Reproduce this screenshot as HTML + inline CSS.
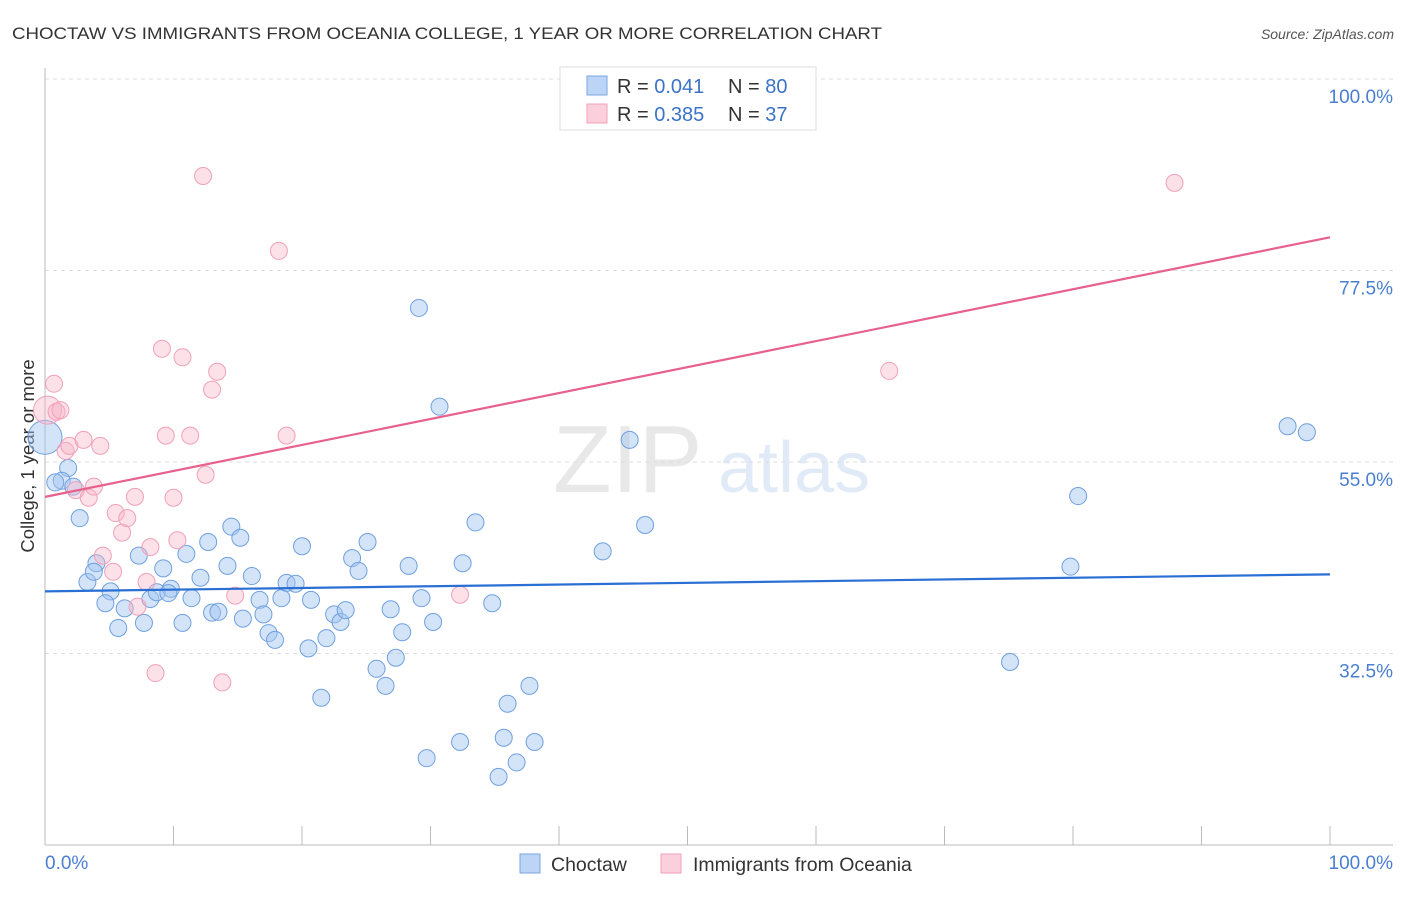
<!DOCTYPE html>
<html><head><meta charset="utf-8"><style>
body{margin:0;background:#fff;font-family:"Liberation Sans",sans-serif}
svg text{font-family:"Liberation Sans",sans-serif}
</style></head><body>
<svg id="chart" width="1406" height="892" xmlns="http://www.w3.org/2000/svg">
<text x="12" y="39" font-size="17" fill="#333" textLength="870" lengthAdjust="spacingAndGlyphs">CHOCTAW VS IMMIGRANTS FROM OCEANIA COLLEGE, 1 YEAR OR MORE CORRELATION CHART</text>
<text x="1394" y="39" font-size="14" fill="#555" font-style="italic" text-anchor="end">Source: ZipAtlas.com</text>
<g opacity="0.22">
<text x="553" y="492" font-size="96" font-family="Liberation Serif,serif" fill="#999">ZIP</text>
<text x="718" y="492" font-size="72" fill="#7aa6e0">atlas</text>
</g>
<g id="grid"></g>
<line x1="45" y1="68" x2="45" y2="845" stroke="#bbb"/>
<line x1="45" y1="845" x2="1393" y2="845" stroke="#bbb"/>
<g id="xticks"></g>
<g id="ylabels"></g>
<text transform="translate(34,456) rotate(-90)" font-size="18.5" fill="#333" text-anchor="middle">College, 1 year or more</text>
<text x="45" y="869" font-size="19" fill="#4a7fd0">0.0%</text>
<text x="1393" y="869" font-size="19" fill="#4a7fd0" text-anchor="end">100.0%</text>
<g id="points"></g>
<g id="lines"></g>
<g>
<rect x="560" y="67" width="256" height="63" fill="#fff" stroke="#ddd"/>
<rect x="587" y="76" width="20" height="19" fill="#bcd4f5" stroke="#7aa6e0"/>
<rect x="587" y="104" width="20" height="19" fill="#fbd0dc" stroke="#f0a0b8"/>
<text x="617" y="93" font-size="20" fill="#333">R = <tspan fill="#3b73c8">0.041</tspan><tspan x="728">N = </tspan><tspan fill="#3b73c8">80</tspan></text>
<text x="617" y="121" font-size="20" fill="#333">R = <tspan fill="#3b73c8">0.385</tspan><tspan x="728">N = </tspan><tspan fill="#3b73c8"> 37</tspan></text>
</g>
<g>
<rect x="520" y="854" width="20" height="19" fill="#bcd4f5" stroke="#7aa6e0"/>
<text x="551" y="871" font-size="19.5" fill="#333">Choctaw</text>
<rect x="661" y="854" width="20" height="19" fill="#fbd0dc" stroke="#f0a0b8"/>
<text x="693" y="871" font-size="19.5" fill="#333">Immigrants from Oceania</text>
</g>
</svg>
<script>
const yTicks=[100,77.5,55,32.5];
const yTickLabels=["100.0%","77.5%","55.0%","32.5%"];
const xTicks=[0,10,20,30,40,50,60,70,80,90,100];
const blueX=[0,1.8,1.3,0.8,2.2,2.7,4.0,3.3,3.8,5.1,4.7,6.2,5.7,7.3,8.2,7.7,9.2,8.7,9.8,9.6,11.0,10.7,12.1,11.4,12.7,13.0,13.5,14.2,14.5,15.2,15.4,16.1,16.7,17.0,17.4,17.9,18.4,18.8,19.5,20.0,20.5,20.7,21.5,21.9,22.5,23.0,23.4,23.9,24.4,25.1,25.8,26.5,26.9,27.3,27.8,28.3,29.3,29.7,30.2,30.7,32.3,32.5,33.5,34.8,35.3,35.7,36.0,36.7,37.7,38.1,29.1,43.4,45.5,46.7,75.1,79.8,80.4,96.7,98.2];
const blueY=[57.9,54.3,52.8,52.6,52.1,48.4,43.1,40.9,42.1,39.8,38.4,37.8,35.5,44.0,38.9,36.1,42.5,39.7,40.1,39.6,44.2,36.1,41.4,39.0,45.6,37.3,37.4,42.8,47.4,46.1,36.6,41.6,38.8,37.1,34.9,34.1,39.0,40.8,40.7,45.1,33.1,38.8,27.3,34.3,37.1,36.2,37.6,43.7,42.2,45.6,30.7,28.7,37.7,32.0,35.0,42.8,39.0,20.2,36.2,61.5,22.1,43.1,47.9,38.4,18.0,22.6,26.6,19.7,28.7,22.1,73.1,44.5,57.6,47.6,31.5,42.7,51.0,59.2,58.5];
const blueSize=[17];
const pinkX=[0.2,0.7,0.9,1.2,1.6,1.9,2.4,3.0,3.4,3.8,4.3,4.5,5.3,5.5,6.0,6.4,7.0,7.2,7.9,8.2,8.6,9.1,9.4,10.0,10.3,10.7,11.3,12.3,12.5,13.0,13.4,13.8,14.8,18.2,18.8,32.3,65.7,87.9];
const pinkY=[61.1,64.2,60.9,61.1,56.3,56.9,51.7,57.6,50.8,52.1,56.9,44.0,42.1,49.0,46.7,48.4,50.9,38.0,40.9,45.0,30.2,68.3,58.1,50.8,45.8,67.3,58.1,88.6,53.5,63.5,65.6,29.1,39.3,79.8,58.1,39.4,65.7,87.8];
const trendBlue=[39.8,41.8];
const trendPink=[50.9,81.4];
const NS="http://www.w3.org/2000/svg";
const X=v=>45+v*12.85;
const Y=v=>79+(100-v)*8.511;
function mk(tag,attrs,parent){const e=document.createElementNS(NS,tag);for(const k in attrs)e.setAttribute(k,attrs[k]);document.getElementById(parent).appendChild(e);return e;}
yTicks.forEach((t,i)=>{
 const l=mk('line',{x1:45,x2:1393,y1:Y(t),y2:Y(t),stroke:'#ddd','stroke-dasharray':'4,4'},'grid');
 
 
 const tx=mk('text',{x:1393,y:Y(t)+24,'font-size':19,fill:'#4a7fd0','text-anchor':'end'},'ylabels');
 tx.textContent=yTickLabels[i];
 
 
});
xTicks.forEach(t=>{
 const l=mk('line',{x1:X(t),x2:X(t),y1:826,y2:845,stroke:'#bbb'},'xticks');
 
 
});
blueX.forEach((x,i)=>{
 const c=mk('circle',{cx:X(x),cy:Y(blueY[i]),r:i===0?blueSize[0]:8.5,fill:'rgba(160,196,240,0.45)',stroke:'#6fa0e0','stroke-width':1},'points');
 
 
});
pinkX.forEach((x,i)=>{
 const c=mk('circle',{cx:X(x),cy:Y(pinkY[i]),r:i===0?14:8.5,fill:'rgba(248,180,200,0.4)',stroke:'#f0a0b8','stroke-width':1},'points');
 
 
});
const lb=mk('line',{x1:X(0),y1:Y(trendBlue[0]),x2:X(100),y2:Y(trendBlue[1]),stroke:'#2a6fd4','stroke-width':2.2},'lines');


const lp=mk('line',{x1:X(0),y1:Y(trendPink[0]),x2:X(100),y2:Y(trendPink[1]),stroke:'#e8608c','stroke-width':2.2},'lines');


</script>
</body></html>
